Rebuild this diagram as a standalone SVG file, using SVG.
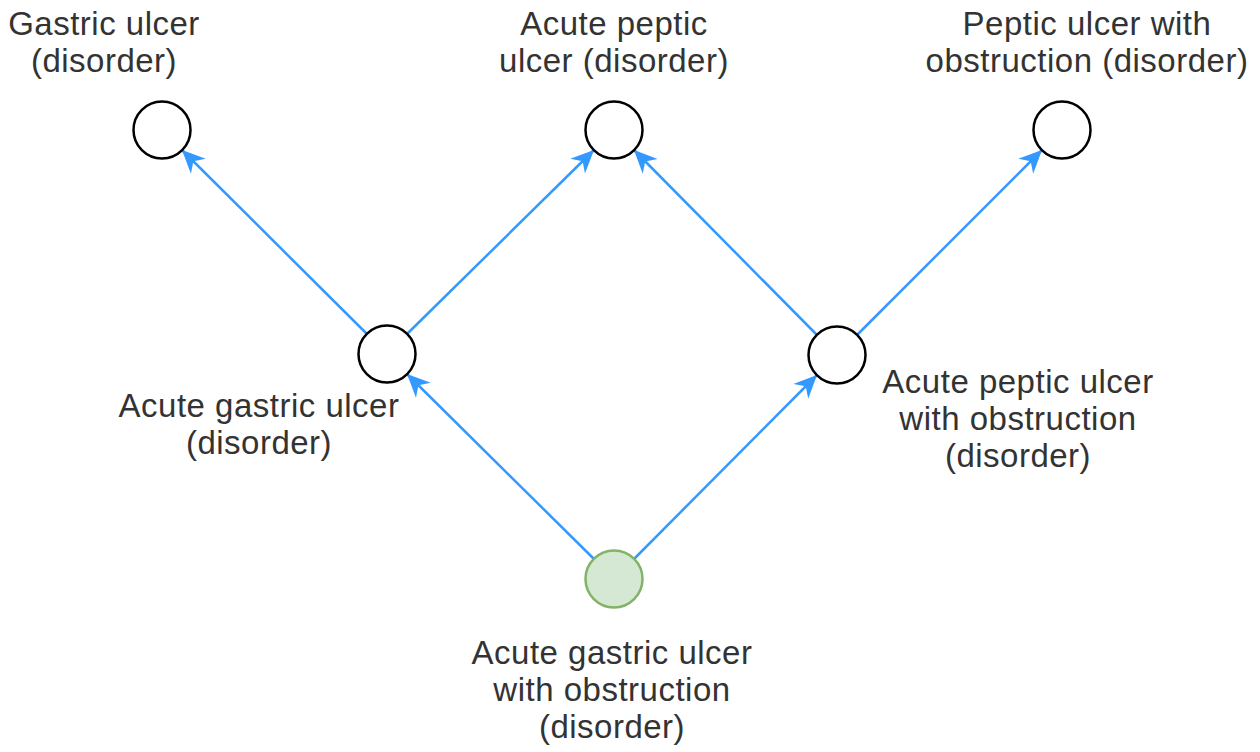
<svg xmlns="http://www.w3.org/2000/svg" width="1260" height="752" viewBox="0 0 1260 752">
<style>
.n{fill:#ffffff;stroke:#000000;stroke-width:2.5}
.g{fill:#d5e8d4;stroke:#82b366;stroke-width:2.5}
.e{fill:none;stroke:#3399ff;stroke-width:2.5;marker-end:url(#arr)}
text{font-family:"Liberation Sans",Arial,Helvetica,sans-serif;font-size:33px;fill:#333333;text-anchor:middle;letter-spacing:0.5px}
</style>
<defs>
<marker id="arr" markerUnits="userSpaceOnUse" viewBox="-24 -12 26 24" refX="0" refY="0" markerWidth="26" markerHeight="24" orient="auto">
<path d="M0,0 L-23,-10.5 L-16,0 L-23,10.5 Z" fill="#3399ff"/>
</marker>
</defs>
<rect width="1260" height="752" fill="#ffffff"/>
<g id="connectors">
<line class="e" x1="367" y1="334" x2="182" y2="150"/>
<line class="e" x1="407" y1="334" x2="594" y2="150"/>
<line class="e" x1="817" y1="335" x2="634" y2="150"/>
<line class="e" x1="857" y1="335" x2="1042" y2="150"/>
<line class="e" x1="594" y1="559" x2="407" y2="374"/>
<line class="e" x1="634" y1="559" x2="817" y2="375"/>
</g>
<g id="gastric-ulcer">
<circle class="n" cx="162" cy="130" r="28.5"/>
<text x="104" y="35">Gastric ulcer</text>
<text x="104" y="72">(disorder)</text>
</g>
<g id="acute-peptic-ulcer">
<circle class="n" cx="614" cy="130" r="28.5"/>
<text x="614" y="35">Acute peptic</text>
<text x="614" y="72">ulcer (disorder)</text>
</g>
<g id="peptic-ulcer-obstruction">
<circle class="n" cx="1062" cy="130" r="28.5"/>
<text x="1087" y="35">Peptic ulcer with</text>
<text x="1087" y="72">obstruction (disorder)</text>
</g>
<g id="acute-gastric-ulcer">
<circle class="n" cx="387" cy="354" r="28.5"/>
<text x="259" y="417">Acute gastric ulcer</text>
<text x="259" y="454">(disorder)</text>
</g>
<g id="acute-peptic-ulcer-obstruction">
<circle class="n" cx="837" cy="355" r="28.5"/>
<text x="1018" y="393">Acute peptic ulcer</text>
<text x="1018" y="430">with obstruction</text>
<text x="1018" y="467">(disorder)</text>
</g>
<g id="acute-gastric-ulcer-obstruction">
<circle class="g" cx="614" cy="579" r="28.5"/>
<text x="612" y="664">Acute gastric ulcer</text>
<text x="612" y="701">with obstruction</text>
<text x="612" y="738">(disorder)</text>
</g>
</svg>
